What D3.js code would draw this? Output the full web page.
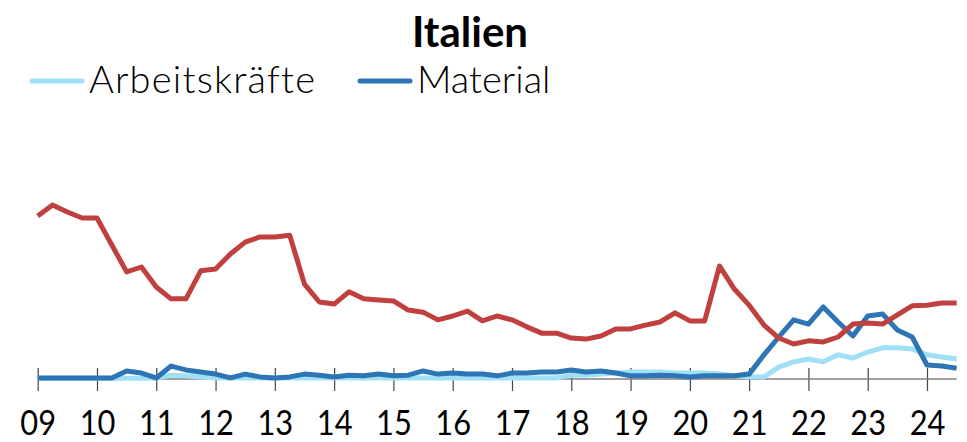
<!DOCTYPE html>
<html>
<head>
<meta charset="utf-8">
<script src="https://cdnjs.cloudflare.com/ajax/libs/d3/7.8.5/d3.min.js"></script>
<style>
  body { margin: 0; background: #fff; }
  svg { display: block; }
  text { font-family: Lato, 'Open Sans', sans-serif; fill: #000; }
</style>
</head>
<body>
<div id="chart"></div>
<script>
// quarterly values 2009 Q1 .. 2024 Q3
var startYear = 2009
var years = d3.range(2009, 2025)

var nachfrage = [46.6, 49.7, 47.7, 46.0, 46.0, 38.3, 30.6, 32.0, 26.3, 22.9, 22.9, 30.9, 31.4, 35.7, 39.1, 40.6,
  40.6, 41.1, 27.1, 22.0, 21.4, 24.9, 22.9, 22.6, 22.3, 19.7, 19.1, 16.9, 18.0, 19.4, 16.6, 18.0,
  16.9, 14.9, 13.1, 13.1, 11.7, 11.4, 12.3, 14.3, 14.3, 15.4, 16.3, 18.9, 16.6, 16.6, 32.3, 25.7,
  21.1, 15.4, 11.7, 10.0, 10.9, 10.6, 12.0, 15.7, 16.0, 15.7, 18.3, 20.9, 21.1, 21.7, 21.7]

var material = [0.3, 0.3, 0.3, 0.3, 0.3, 0.3, 2.3, 1.7, 0.3, 3.7, 2.6, 2.0, 1.4, 0.3, 1.4, 0.6,
  0.3, 0.6, 1.4, 1.1, 0.6, 1.1, 0.9, 1.4, 0.9, 1.1, 2.3, 1.4, 1.7, 1.4, 1.4, 0.9,
  1.7, 1.7, 2.0, 2.0, 2.6, 2.0, 2.3, 1.7, 0.9, 0.9, 1.1, 0.9, 0.6, 0.9, 0.9, 0.9,
  1.4, 6.9, 12.0, 16.9, 15.7, 20.6, 16.3, 12.3, 18.0, 18.6, 14.0, 12.0, 4.0, 3.7, 3.1]

var arbeit = [0.2, 0.2, 0.2, 0.2, 0.2, 0.2, 0.2, 0.2, 0.2, 1.1, 0.9, 0.6, 0.3, 0.3, 0.3, 0.3,
  0.3, 0.3, 0.3, 0.3, 0.3, 0.3, 0.3, 0.3, 0.3, 0.3, 0.3, 0.3, 0.3, 0.3, 0.3, 0.3,
  0.3, 0.3, 0.3, 0.3, 1.1, 1.1, 1.4, 1.7, 2.0, 2.0, 2.0, 1.7, 1.7, 1.7, 1.4, 0.9,
  0.6, 0.6, 3.4, 4.9, 5.7, 4.9, 6.9, 6.0, 7.7, 8.9, 8.9, 8.6, 6.9, 6.3, 5.7]

var seriesNames = ['Arbeitskräfte', 'Material']

var W = 967, H = 442

var svg = d3.select('#chart').append('svg')
  .attr('width', W)
  .attr('height', H)

var x = d3.scaleLinear()
  .domain([2009, 2024])
  .range([37.7, 927])

var y = d3.scaleLinear()
  .domain([0, 60])
  .range([379, 169])

function t(i) { return startYear + i / 4 }

// title
svg.append('text')
  .attr('x', 470)
  .attr('y', 47)
  .attr('text-anchor', 'middle')
  .style('font-size', '42px')
  .style('font-weight', 'bold')
  .text('Italien')

// legend
var legendColors = ['#9fe0f7', '#2e75b6']
var legendX = [30, 358]
var legendSpacing = [1.2, 0]
seriesNames.forEach(function(name, i) {
  svg.append('line')
    .attr('x1', legendX[i] + 2).attr('x2', legendX[i] + 52)
    .attr('y1', 81).attr('y2', 81)
    .attr('stroke', legendColors[i])
    .attr('stroke-width', 5)
    .attr('stroke-linecap', 'round')
  svg.append('text')
    .attr('x', legendX[i] + 59)
    .attr('y', 93)
    .style('font-size', '38px')
    .style('font-weight', 300)
    .style('letter-spacing', legendSpacing[i] + 'px')
    .text(name)
})

// axis
var axisY = y(0)
var axis = svg.append('g')
  .attr('transform', 'translate(0,' + axisY + ')')
  .call(d3.axisBottom(x)
    .tickValues(years)
    .tickSize(12)
    .tickFormat(function(d) { return String(d).slice(2) }))

axis.select('.domain').remove()
axis.selectAll('.tick line')
  .attr('y1', -11)
  .attr('stroke', '#444')
  .attr('stroke-width', 1.2)
axis.selectAll('.tick text')
  .attr('y', 56)
  .attr('dy', 0)
  .attr('transform', 'scale(0.88,1)')
  .style('font-family', 'Lato, sans-serif')
  .style('font-size', '35px')

svg.append('line')
  .attr('x1', x(startYear))
  .attr('x2', x(t(nachfrage.length - 1)))
  .attr('y1', axisY).attr('y2', axisY)
  .attr('stroke', '#808080')
  .attr('stroke-width', 1.5)

// lines
var line = d3.line()
  .x(function(d, i) { return x(t(i)) })
  .y(function(d) { return y(d) })

var series = [
  { values: arbeit, color: '#9fe0f7' },
  { values: material, color: '#2e75b6' },
  { values: nachfrage, color: '#c0403f' }
]

svg.selectAll('.series')
  .data(series)
  .enter().append('path')
  .attr('class', 'series')
  .attr('d', function(d) { return line(d.values) })
  .attr('fill', 'none')
  .attr('stroke', function(d) { return d.color })
  .attr('stroke-width', 5)
  .attr('stroke-linejoin', 'round')
</script>
</body>
</html>
